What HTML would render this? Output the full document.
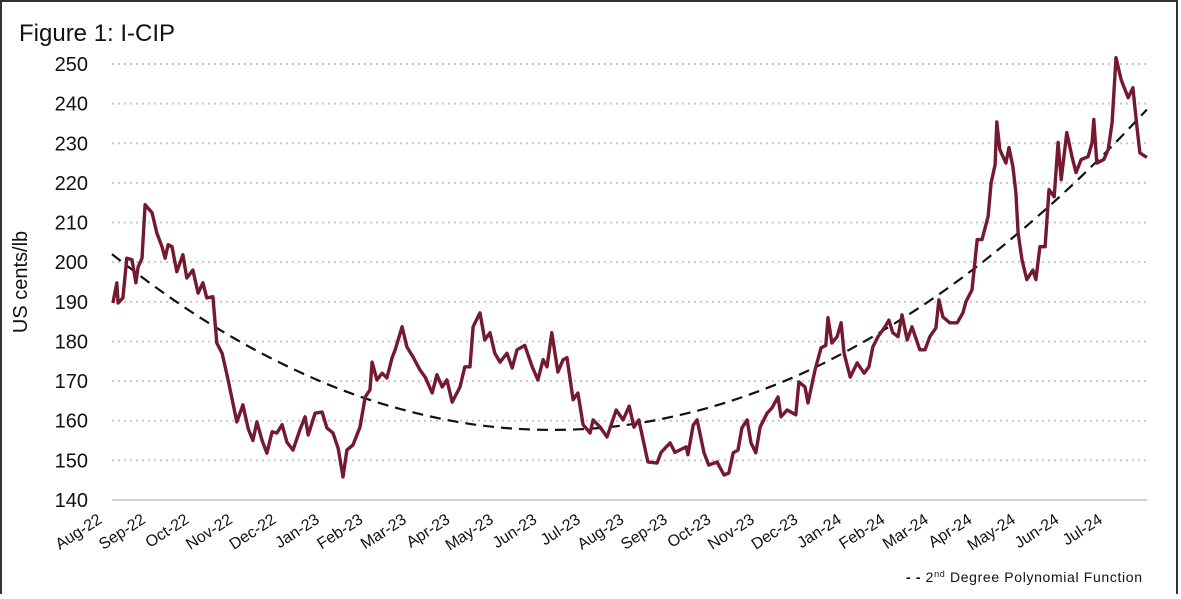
<!DOCTYPE html>
<html><head><meta charset="utf-8"><style>
html,body{margin:0;padding:0;background:#fff;}
body{width:1181px;height:594px;overflow:hidden;font-family:"Liberation Sans",sans-serif;}
</style></head><body>
<svg id="chart" width="1181" height="594" viewBox="0 0 1181 594" xmlns="http://www.w3.org/2000/svg">
<rect x="1" y="1" width="1176" height="600" fill="#fff" stroke="#333" stroke-width="2"/>
<text x="19" y="41" font-size="24" fill="#111" font-family="Liberation Sans, sans-serif">Figure 1: I-CIP</text>
<text transform="translate(27,282) rotate(-90)" text-anchor="middle" font-size="20" fill="#111">US cents/lb</text>
<g id="grid"></g><g id="yticks"></g><g id="xticks"></g>
<line x1="112" y1="500" x2="1147" y2="500" stroke="#d0d0d0" stroke-width="2"/>
<path id="trend" fill="none" stroke="#111" stroke-width="2.2" stroke-dasharray="11,7"/>
<path id="series" fill="none" stroke="#751930" stroke-width="3.4" stroke-linejoin="round"/>
<text x="906" y="582" font-size="14" fill="#111" textLength="236" lengthAdjust="spacing"><tspan font-weight="bold">- - </tspan>2<tspan font-size="9" dy="-5">nd</tspan><tspan dy="5"> Degree Polynomial Function</tspan></text>
</svg>
<script>
const monthLabels=["Aug-22","Sep-22","Oct-22","Nov-22","Dec-22","Jan-23","Feb-23","Mar-23","Apr-23","May-23","Jun-23","Jul-23","Aug-23","Sep-23","Oct-23","Nov-23","Dec-23","Jan-24","Feb-24","Mar-24","Apr-24","May-24","Jun-24","Jul-24"];
const yTicks=[140,150,160,170,180,190,200,210,220,230,240,250];
const dates=[.02,.11,.14,.25,.34,.46,.55,.6,.69,.76,.92,1.03,1.15,1.22,1.29,1.38,1.49,1.63,1.72,1.86,1.98,2.09,2.18,2.32,2.41,2.53,2.67,2.87,3.01,3.13,3.24,3.33,3.45,3.56,3.68,3.79,3.91,4.02,4.16,4.32,4.44,4.51,4.67,4.83,4.94,5.08,5.2,5.31,5.4,5.54,5.7,5.82,5.93,5.98,6.09,6.21,6.32,6.44,6.51,6.67,6.78,6.92,7.08,7.2,7.36,7.47,7.59,7.7,7.82,8,8.11,8.23,8.3,8.46,8.57,8.69,8.8,8.92,9.08,9.2,9.31,9.49,9.66,9.79,9.91,10,10.11,10.25,10.37,10.46,10.6,10.71,10.83,10.99,11.06,11.22,11.38,11.59,11.75,11.89,12,12.11,12.32,12.53,12.62,12.83,12.94,13.2,13.24,13.36,13.45,13.61,13.72,13.91,14.07,14.18,14.28,14.39,14.48,14.6,14.69,14.8,14.9,15.06,15.17,15.31,15.38,15.52,15.72,15.79,15.93,16,16.16,16.3,16.41,16.46,16.55,16.67,16.76,16.83,16.97,17.13,17.29,17.4,17.49,17.61,17.77,17.86,17.95,18.07,18.16,18.28,18.39,18.57,18.69,18.8,18.94,19.01,19.1,19.26,19.43,19.56,19.63,19.77,19.89,20,20.14,20.21,20.3,20.34,20.41,20.55,20.62,20.71,20.78,20.83,20.92,21.03,21.17,21.24,21.33,21.45,21.54,21.66,21.75,21.82,21.95,22.07,22.16,22.28,22.44,22.53,22.57,22.64,22.8,22.9,22.99,23.08,23.2,23.26,23.36,23.47,23.56,23.63,23.79];
const prices=[189.7,194.8,189.7,191,201,200.6,194.8,198.8,201,214.5,212.5,207.4,203.9,201,204.4,203.9,197.6,201.9,196,198,192.2,194.8,191,191.3,179.6,177,170.3,159.7,164,158,155,159.7,155,151.8,157.2,156.9,159,154.6,152.6,157.7,161,156.4,161.9,162.2,158.2,156.9,153,145.8,152.6,153.9,158.4,166,167.8,174.8,170.3,172,170.8,175.9,177.9,183.7,178.6,176.1,172.8,171,167,171.6,168.5,170.3,164.7,168.5,173.6,173.6,183.7,187.2,180.4,182.2,177,174.8,177,173.3,177.9,179,173.6,170.3,175.4,173.6,182.2,172.3,175.4,175.9,165.3,167,159,156.9,160.2,158.4,155.9,162.7,160.2,163.7,158.4,160.2,149.6,149.3,152,154.4,152,153.4,151.4,158.9,160.2,151.9,148.8,149.6,146.3,146.8,151.9,152.6,158.2,160.2,154.4,151.9,158.4,161.9,163.2,166,161,162.7,161.5,169.8,168.5,164.5,172.8,178.4,179,186,179.6,181.2,184.7,177,171,174.6,172,173.6,178.6,181.2,183.7,185.4,182.2,181.2,186.7,180.4,183.7,177.9,177.9,181.2,183.4,190.5,186.2,184.7,184.7,187.2,190,193,205.7,205.7,211.5,220,224.6,235.4,228.4,225,228.9,224.1,217.5,207.4,200.6,195.6,198,195.6,203.9,203.9,218.3,216.5,230.2,220.8,232.7,226.6,222.6,225.9,226.6,230.2,236,225,225.9,228.4,235.2,251.6,246,244.3,241.5,244,234.2,227.6,226.4];
const trendDates=[0,1,2,3,4,5,6,7,8,9,10,11,12,13,14,15,16,17,18,19,20,21,22,23,23.79];
const trendValues=[202,193.7,186.2,179.6,173.9,169.0,165.0,161.9,159.6,158.2,157.7,158.0,159.2,161.3,164.2,168.0,172.6,178.2,184.6,191.8,199.9,208.9,218.7,229.4,238.5];

const X0=112,MW=43.5,Y0=500,YMIN=140,YMAX=250,YTOP=64;
const xS=t=>X0+t*MW;
const yS=v=>Y0-(v-YMIN)*(Y0-YTOP)/(YMAX-YMIN);
const NS="http://www.w3.org/2000/svg";
const grid=document.getElementById('grid'),yt=document.getElementById('yticks'),xt=document.getElementById('xticks');
yTicks.forEach(v=>{
  if(v>YMIN){
    const l=document.createElementNS(NS,'line');
    
    
    l.setAttribute('x1',X0);l.setAttribute('x2',1147);l.setAttribute('y1',yS(v));l.setAttribute('y2',yS(v));
    l.setAttribute('stroke','#c8c8c8');l.setAttribute('stroke-width','2');l.setAttribute('stroke-dasharray','2,4');
    grid.appendChild(l);
  }
  const t=document.createElementNS(NS,'text');
  
  
  t.setAttribute('x',88);t.setAttribute('y',yS(v)+7);t.setAttribute('text-anchor','end');
  t.setAttribute('font-size','20');t.setAttribute('fill','#111');
  t.textContent=v;yt.appendChild(t);
});
monthLabels.forEach((m,i)=>{
  const t=document.createElementNS(NS,'text');
  
  
  const x=xS(i)-9,y=522;
  t.setAttribute('transform','translate('+x+','+y+') rotate(-33)');
  t.setAttribute('text-anchor','end');t.setAttribute('font-size','16');t.setAttribute('fill','#111');
  t.textContent=m;xt.appendChild(t);
});
document.getElementById('series').setAttribute('d',dates.map((d,i)=>(i?'L':'M')+xS(d).toFixed(1)+','+yS(prices[i]).toFixed(1)).join(''));
const tp=trendDates.map((d,i)=>[xS(d),yS(trendValues[i])]);
let dp='M'+tp[0][0]+','+tp[0][1];
for(let i=0;i<tp.length-1;i++){
  const p0=tp[i-1]||tp[i],p1=tp[i],p2=tp[i+1],p3=tp[i+2]||p2;
  const c1=[p1[0]+(p2[0]-p0[0])/6,p1[1]+(p2[1]-p0[1])/6],c2=[p2[0]-(p3[0]-p1[0])/6,p2[1]-(p3[1]-p1[1])/6];
  dp+='C'+c1.join(',')+' '+c2.join(',')+' '+p2.join(',');
}
document.getElementById('trend').setAttribute('d',dp);
</script>
</body></html>
